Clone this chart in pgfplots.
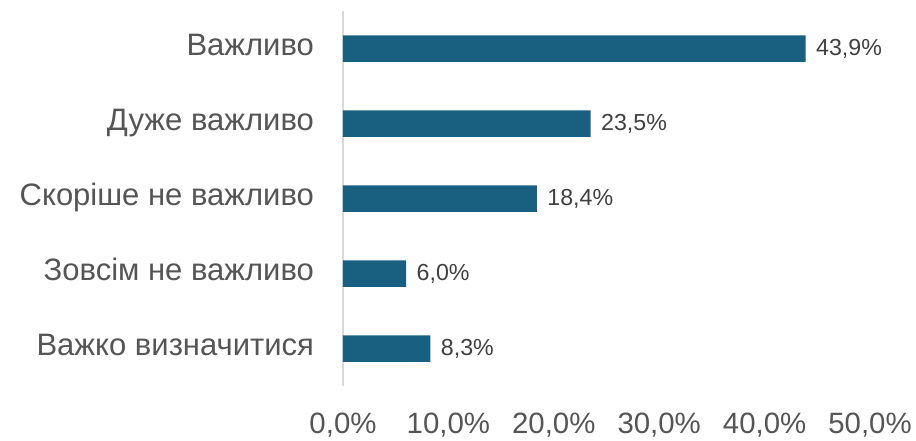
\documentclass[border=0pt]{standalone}
\usepackage{fontspec}
\setmainfont{Liberation Sans}
\usepackage{pgfplots}
\pgfplotsset{compat=1.18}
\definecolor{barblue}{HTML}{185F80}
\definecolor{labelgray}{HTML}{555555}
\definecolor{valgray}{HTML}{404040}
\definecolor{axisgray}{HTML}{D9D9D9}

\begin{document}
\begin{tikzpicture}
\path[use as bounding box] (0,0) rectangle (458pt,220pt);
\begin{axis}[
    at={(171.5pt,27pt)},
    anchor=south west,
    scale only axis,
    width=263.5pt,
    height=187.5pt,
    xbar,
    bar width=13.25pt,
    xmin=0, xmax=50,
    ymin=-0.5, ymax=4.5,
    y dir=reverse,
    clip=false,
    ytick={0,1,2,3,4},
    yticklabels={Важливо,Дуже важливо,Скоріше не важливо,Зовсім не важливо,Важко визначитися},
    xtick={0,10,20,30,40,50},
    xticklabels={{0,0\%},{10,0\%},{20,0\%},{30,0\%},{40,0\%},{50,0\%}},
    axis y line*=left,
    axis x line*=bottom,
    x axis line style={draw=none},
    y axis line style={draw=axisgray, line width=0.75pt},
    major tick length=0pt,
    /pgf/number format/assume math mode=true,
    yticklabel style={font=\fontsize{15.5}{17}\selectfont, text=labelgray,
        text height=0.72em, text depth=0pt, xshift=-11pt},
    xticklabel style={font=\fontsize{14.7}{16}\selectfont, text=labelgray, yshift=-10.1pt},
    nodes near coords={\pgfmathprintnumber[fixed,fixed zerofill,precision=1,use comma]{\pgfplotspointmeta}\%},
    nodes near coords style={font=\fontsize{11.6}{13}\selectfont, text=valgray,
        text height=0.72em, text depth=0pt, xshift=1.7pt},
]
\addplot[draw=none, fill=barblue] coordinates {
    (43.9,0) (23.5,1) (18.4,2) (6.0,3) (8.3,4)
};
\end{axis}
\end{tikzpicture}
\end{document}
